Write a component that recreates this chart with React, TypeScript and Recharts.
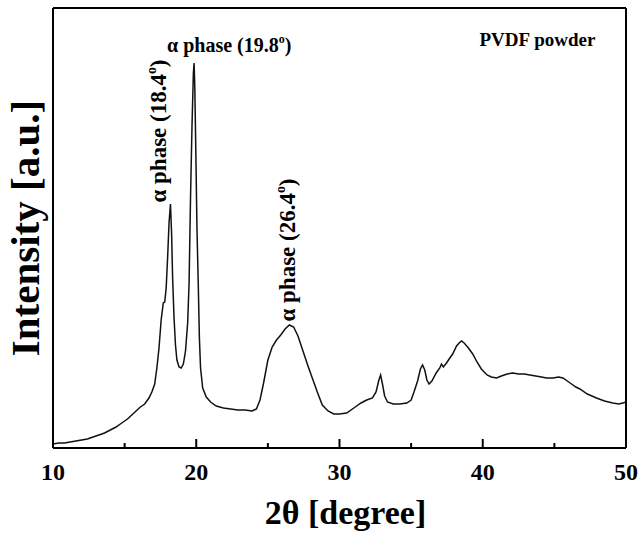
import React from 'react';
import { ComposedChart, Line, XAxis, YAxis, ReferenceDot, Label } from 'recharts';

// 2θ (degree)
const twoTheta = [
  10.0, 10.4, 10.8, 11.2, 11.6, 12.0, 12.4, 12.8, 13.2, 13.6, 14.0, 14.4, 14.8, 15.2, 15.5, 15.8,
  16.1, 16.4, 16.7, 16.9, 17.1, 17.25, 17.4, 17.55, 17.7, 17.8, 17.9, 18.0, 18.1, 18.2, 18.28,
  18.35, 18.45, 18.55, 18.65, 18.8, 18.95, 19.1, 19.25, 19.4, 19.5, 19.6, 19.7, 19.8, 19.85,
  19.9, 19.97, 20.05, 20.14, 20.22, 20.3, 20.45, 20.7, 21.0, 21.4, 21.9, 22.4, 22.9, 23.4, 23.9,
  24.2, 24.45, 24.7, 25.0, 25.3, 25.6, 25.9, 26.2, 26.5, 26.8, 27.1, 27.45, 27.8, 28.1, 28.45,
  28.8, 29.2, 29.6, 30.0, 30.5, 31.0, 31.5, 31.9, 32.3, 32.55, 32.75, 32.87, 33.0, 33.15, 33.35,
  33.75, 34.2, 34.7, 35.0, 35.2, 35.45, 35.65, 35.8, 35.95, 36.1, 36.25, 36.45, 36.75, 37.0,
  37.12, 37.25, 37.47, 37.7, 37.9, 38.17, 38.35, 38.52, 38.7, 39.0, 39.3, 39.6, 39.9, 40.3,
  40.6, 40.96, 41.3, 41.7, 42.1, 42.5, 42.9, 43.29, 43.7, 44.1, 44.45, 44.9, 45.3, 45.6, 46.1,
  46.5, 46.78, 47.3, 47.94, 48.5, 49.08, 49.5, 49.78, 50.0,
];

// Intensity (a.u.)
const intensity = [
  4, 5, 5, 6, 7, 8, 9, 11, 13, 15, 18, 21, 25, 29, 33, 37,
  41, 44, 50, 56, 64, 80, 100, 128, 145, 146, 160, 190, 225, 244, 214,
  170, 130, 103, 88, 81, 80, 84, 97, 125, 165, 250, 320, 375, 385,
  360, 297, 220, 164, 110, 80, 60, 51, 46, 42, 40, 39, 38, 38, 37,
  39, 48, 65, 88, 101, 108, 113, 119, 123, 121, 112, 97, 82, 70, 56,
  43, 37, 34, 34, 35, 40, 45, 48, 50, 56, 68, 73, 64, 52, 46,
  44, 44, 45, 48, 56, 67, 79, 83, 78, 68, 64, 67, 75, 80,
  84, 81, 85, 90, 94, 102, 105, 107, 105, 100, 94, 86, 79, 73,
  71, 70, 72, 74, 75, 74, 74, 73, 72, 71, 70, 70, 71, 70, 65,
  61, 59, 54, 50, 47, 45, 44, 45, 46,
];

const xTicks = [10, 15, 20, 25, 30, 35, 40, 45, 50];
const xTitle = '2θ [degree]';
const yTitle = 'Intensity [a.u.]';
const sampleLabel = 'PVDF powder';

// annotations: anchor (2θ, intensity), angle, peak text
const peakLabels = [
  { x: 22.3, y: 396, angle: 0, peak: '19.8', size: 20 },
  { x: 17.89, y: 317, angle: -90, peak: '18.4', size: 23 },
  { x: 26.89, y: 198, angle: -90, peak: '26.4', size: 23 },
];

const data = twoTheta.map((t, i) => ({ t, v: intensity[i] }));

const FONT = '"Liberation Serif", "Times New Roman", serif';

const XTick = (props: any) => {
  const { x, y, payload } = props;
  const v = payload.value;
  const major = v % 10 === 0;
  return (
    <g>
      <line x1={x} x2={x} y1={y} y2={y - (major ? 9 : 5)} stroke="#000" strokeWidth={2} />
      {major && (
        <text x={x} y={y + 32} textAnchor="middle" fontFamily={FONT} fontWeight="bold" fontSize={24} fill="#000">
          {v}
        </text>
      )}
    </g>
  );
};

const peakContent = (cfg: any) => (props: any) => {
  const vb = props.viewBox || {};
  const cx = vb.x + (vb.width || 0) / 2;
  const cy = vb.y + (vb.height || 0) / 2;
  return (
    <text
      x={cx}
      y={cy}
      textAnchor="middle"
      fontFamily={FONT}
      fontWeight="bold"
      fontSize={cfg.size}
      fill="#000"
      transform={cfg.angle ? `rotate(${cfg.angle} ${cx} ${cy})` : undefined}
    >
      {'α phase (' + cfg.peak}
      <tspan fontSize={cfg.size * 0.6} dy={-cfg.size * 0.45}>o</tspan>
      <tspan dy={cfg.size * 0.45}>)</tspan>
    </text>
  );
};

const sampleContent = (props: any) => {
  const vb = props.viewBox || {};
  const cx = vb.x + (vb.width || 0) / 2;
  const cy = vb.y + (vb.height || 0) / 2;
  return (
    <text x={cx} y={cy} textAnchor="middle" fontFamily={FONT} fontWeight="bold" fontSize={19} fill="#000">
      {sampleLabel}
    </text>
  );
};

const xTitleContent = (props: any) => {
  const vb = props.viewBox || {};
  const cx = vb.x + vb.width / 2 + 6;
  const y = vb.y + 76;
  return (
    <text x={cx} y={y} textAnchor="middle" fontFamily={FONT} fontWeight="bold" fontSize={34} fill="#000">
      {xTitle}
    </text>
  );
};

const yTitleContent = (props: any) => {
  const vb = props.viewBox || {};
  const x = vb.x + vb.width - 14;
  const cy = vb.y + vb.height / 2;
  return (
    <text
      x={x}
      y={cy}
      textAnchor="middle"
      fontFamily={FONT}
      fontWeight="bold"
      fontSize={41}
      fill="#000"
      transform={`rotate(-90 ${x} ${cy})`}
    >
      {yTitle}
    </text>
  );
};

export default function App() {
  return (
    <div style={{ position: 'absolute', left: 0, top: 0, width: 640, height: 538, background: '#fff' }}>
      <ComposedChart width={640} height={538} data={data} margin={{ top: 6, right: 12, bottom: 60, left: 13 }}>
        <XAxis
          xAxisId="b"
          dataKey="t"
          type="number"
          domain={[10, 50]}
          ticks={xTicks}
          interval={0}
          height={30}
          tickSize={0}
          tickMargin={0}
          tickLine={false}
          tick={<XTick />}
          axisLine={{ stroke: '#000', strokeWidth: 2 }}
        >
          <Label content={xTitleContent} />
        </XAxis>
        <XAxis
          xAxisId="t"
          orientation="top"
          type="number"
          domain={[10, 50]}
          height={2}
          tick={false}
          tickLine={false}
          axisLine={{ stroke: '#000', strokeWidth: 2 }}
        />
        <YAxis
          yAxisId="l"
          type="number"
          domain={[0, 440]}
          width={40}
          tick={false}
          tickLine={false}
          axisLine={{ stroke: '#000', strokeWidth: 2 }}
        >
          <Label content={yTitleContent} />
        </YAxis>
        <YAxis
          yAxisId="r"
          orientation="right"
          type="number"
          domain={[0, 440]}
          width={2}
          tick={false}
          tickLine={false}
          axisLine={{ stroke: '#000', strokeWidth: 2 }}
        />
        <Line
          xAxisId="b"
          yAxisId="l"
          dataKey="v"
          type="linear"
          stroke="#111"
          strokeWidth={1.5}
          dot={false}
          isAnimationActive={false}
        />
        {peakLabels.map((p, i) => (
          <ReferenceDot
            key={i}
            xAxisId="b"
            yAxisId="l"
            x={p.x}
            y={p.y}
            r={0}
            fill="none"
            stroke="none"
            ifOverflow="visible"
            label={peakContent(p)}
          />
        ))}
        <ReferenceDot
          xAxisId="b"
          yAxisId="l"
          x={43.82}
          y={402}
          r={0}
          fill="none"
          stroke="none"
          ifOverflow="visible"
          label={sampleContent}
        />
      </ComposedChart>
    </div>
  );
}
